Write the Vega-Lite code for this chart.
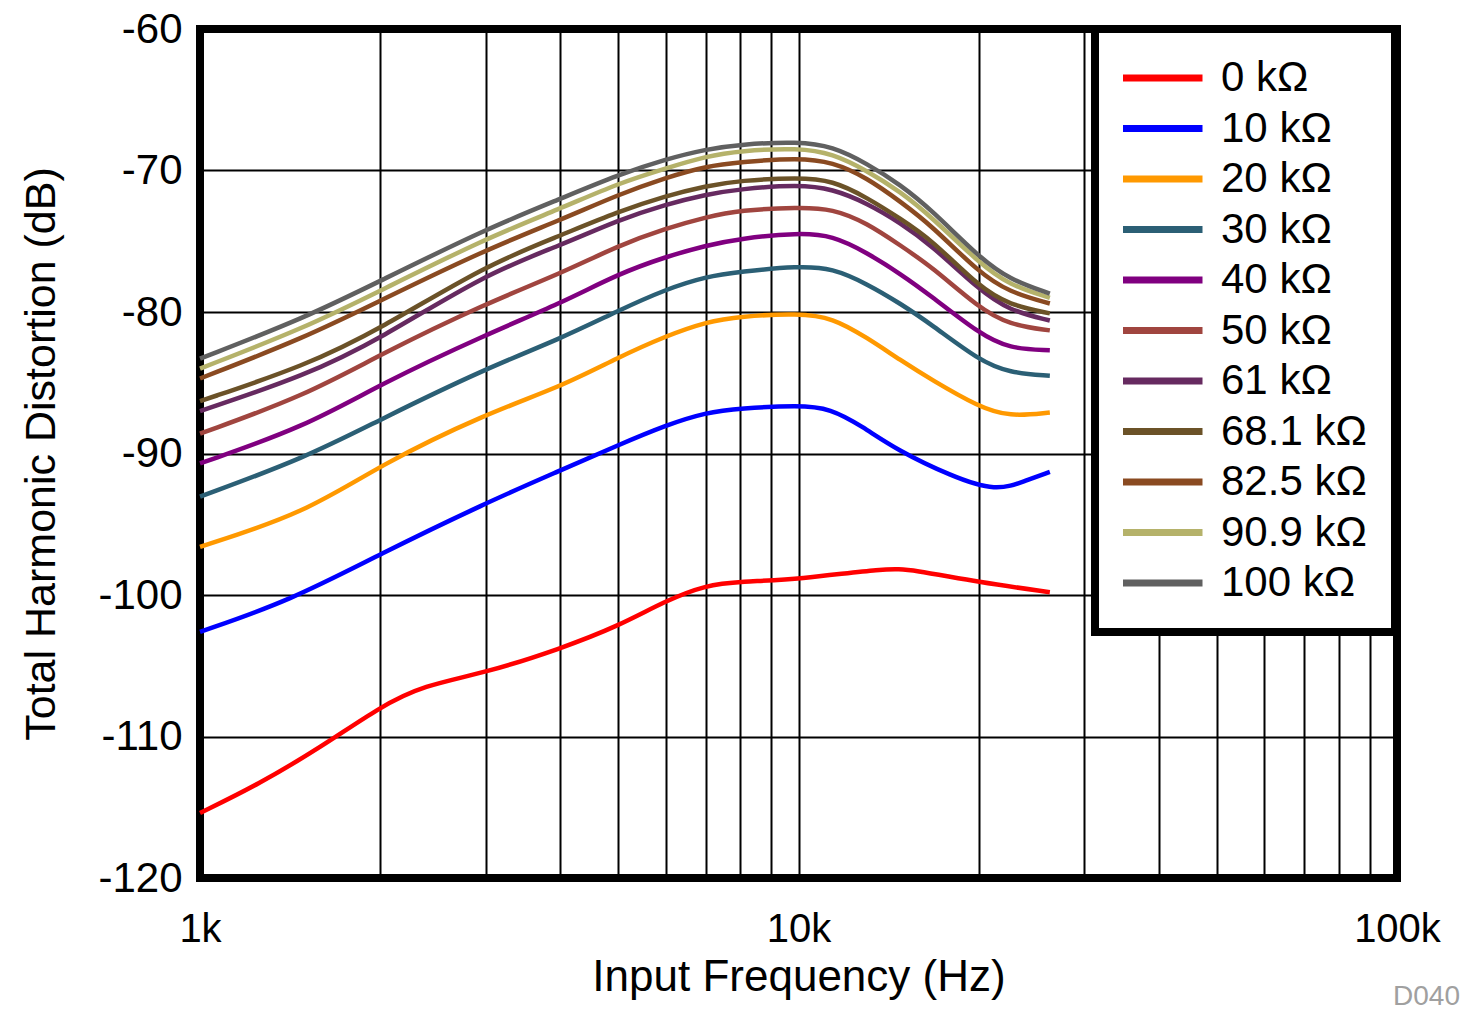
{
  "$schema": "https://vega.github.io/schema/vega-lite/v6.json",
  "width": 1197,
  "height": 849,
  "autosize": {"type": "none"},
  "padding": {"left": 200, "top": 29, "right": 66, "bottom": 137},
  "background": "white",
  "config": {
    "font": "Liberation Sans",
    "view": {"stroke": "black", "strokeWidth": 8},
    "legend": {"strokeWidth": 8},
    "axis": {"labelColor": "black", "titleColor": "black", "titleFontWeight": "normal", "labelFlush": false, "labelOverlap": false, "ticks": false, "domain": false, "grid": true, "gridColor": "black", "gridWidth": 2, "gridOpacity": 1}
  },
  "title": {"text": "D040", "orient": "bottom", "anchor": "end", "frame": "group", "fontSize": 28, "fontWeight": "normal", "color": "#a0a0a0", "dx": 63, "offset": -16},
  "data": {"values": [
    {"f":1000,"thd":-115.4,"r":"0 kΩ"},{"f":1250,"thd":-113.4,"r":"0 kΩ"},{"f":1600,"thd":-110.7,"r":"0 kΩ"},{"f":2000,"thd":-107.9,"r":"0 kΩ"},{"f":2360,"thd":-106.4,"r":"0 kΩ"},{"f":3000,"thd":-105.5,"r":"0 kΩ"},{"f":4000,"thd":-103.8,"r":"0 kΩ"},{"f":5000,"thd":-102.2,"r":"0 kΩ"},{"f":6000,"thd":-100.4,"r":"0 kΩ"},{"f":7000,"thd":-99.3,"r":"0 kΩ"},{"f":8000,"thd":-99.05,"r":"0 kΩ"},{"f":10000,"thd":-98.9,"r":"0 kΩ"},{"f":14000,"thd":-98.1,"r":"0 kΩ"},{"f":15500,"thd":-98.2,"r":"0 kΩ"},{"f":20000,"thd":-99.1,"r":"0 kΩ"},{"f":26300,"thd":-99.8,"r":"0 kΩ"},
    {"f":1000,"thd":-102.6,"r":"10 kΩ"},{"f":1414,"thd":-100.4,"r":"10 kΩ"},{"f":2000,"thd":-97.1,"r":"10 kΩ"},{"f":3000,"thd":-93.5,"r":"10 kΩ"},{"f":4000,"thd":-91.2,"r":"10 kΩ"},{"f":5000,"thd":-89.4,"r":"10 kΩ"},{"f":6000,"thd":-88.0,"r":"10 kΩ"},{"f":7000,"thd":-87.1,"r":"10 kΩ"},{"f":8000,"thd":-86.8,"r":"10 kΩ"},{"f":10000,"thd":-86.6,"r":"10 kΩ"},{"f":11300,"thd":-86.8,"r":"10 kΩ"},{"f":12800,"thd":-88.1,"r":"10 kΩ"},{"f":14600,"thd":-89.75,"r":"10 kΩ"},{"f":18000,"thd":-91.6,"r":"10 kΩ"},{"f":21400,"thd":-92.7,"r":"10 kΩ"},{"f":24000,"thd":-91.9,"r":"10 kΩ"},{"f":26300,"thd":-91.3,"r":"10 kΩ"},
    {"f":1000,"thd":-96.6,"r":"20 kΩ"},{"f":1500,"thd":-94.2,"r":"20 kΩ"},{"f":2000,"thd":-90.8,"r":"20 kΩ"},{"f":3000,"thd":-87.2,"r":"20 kΩ"},{"f":4000,"thd":-85.3,"r":"20 kΩ"},{"f":5000,"thd":-83.2,"r":"20 kΩ"},{"f":6000,"thd":-81.7,"r":"20 kΩ"},{"f":7000,"thd":-80.7,"r":"20 kΩ"},{"f":8000,"thd":-80.3,"r":"20 kΩ"},{"f":10000,"thd":-80.1,"r":"20 kΩ"},{"f":11400,"thd":-80.4,"r":"20 kΩ"},{"f":13000,"thd":-81.8,"r":"20 kΩ"},{"f":14800,"thd":-83.4,"r":"20 kΩ"},{"f":16700,"thd":-84.8,"r":"20 kΩ"},{"f":20000,"thd":-86.7,"r":"20 kΩ"},{"f":22500,"thd":-87.4,"r":"20 kΩ"},{"f":26300,"thd":-87.1,"r":"20 kΩ"},
    {"f":1000,"thd":-93.05,"r":"30 kΩ"},{"f":1500,"thd":-90.3,"r":"30 kΩ"},{"f":2000,"thd":-87.6,"r":"30 kΩ"},{"f":3000,"thd":-84.0,"r":"30 kΩ"},{"f":4000,"thd":-81.9,"r":"30 kΩ"},{"f":5000,"thd":-79.9,"r":"30 kΩ"},{"f":6000,"thd":-78.4,"r":"30 kΩ"},{"f":7000,"thd":-77.5,"r":"30 kΩ"},{"f":8000,"thd":-77.15,"r":"30 kΩ"},{"f":10000,"thd":-76.75,"r":"30 kΩ"},{"f":11400,"thd":-76.9,"r":"30 kΩ"},{"f":13000,"thd":-78.0,"r":"30 kΩ"},{"f":14800,"thd":-79.4,"r":"30 kΩ"},{"f":16700,"thd":-80.9,"r":"30 kΩ"},{"f":20000,"thd":-83.4,"r":"30 kΩ"},{"f":22500,"thd":-84.3,"r":"30 kΩ"},{"f":26300,"thd":-84.5,"r":"30 kΩ"},
    {"f":1000,"thd":-90.7,"r":"40 kΩ"},{"f":1500,"thd":-88.1,"r":"40 kΩ"},{"f":2000,"thd":-85.1,"r":"40 kΩ"},{"f":3000,"thd":-81.6,"r":"40 kΩ"},{"f":4000,"thd":-79.4,"r":"40 kΩ"},{"f":5000,"thd":-77.3,"r":"40 kΩ"},{"f":6000,"thd":-76.1,"r":"40 kΩ"},{"f":7000,"thd":-75.3,"r":"40 kΩ"},{"f":8000,"thd":-74.8,"r":"40 kΩ"},{"f":10000,"thd":-74.4,"r":"40 kΩ"},{"f":11400,"thd":-74.6,"r":"40 kΩ"},{"f":13000,"thd":-75.8,"r":"40 kΩ"},{"f":14800,"thd":-77.3,"r":"40 kΩ"},{"f":16700,"thd":-78.9,"r":"40 kΩ"},{"f":20000,"thd":-81.5,"r":"40 kΩ"},{"f":22500,"thd":-82.6,"r":"40 kΩ"},{"f":26300,"thd":-82.7,"r":"40 kΩ"},
    {"f":1000,"thd":-88.6,"r":"50 kΩ"},{"f":1500,"thd":-85.9,"r":"50 kΩ"},{"f":2000,"thd":-83.0,"r":"50 kΩ"},{"f":3000,"thd":-79.4,"r":"50 kΩ"},{"f":4000,"thd":-77.3,"r":"50 kΩ"},{"f":5000,"thd":-75.3,"r":"50 kΩ"},{"f":6000,"thd":-74.1,"r":"50 kΩ"},{"f":7000,"thd":-73.3,"r":"50 kΩ"},{"f":8000,"thd":-72.8,"r":"50 kΩ"},{"f":10000,"thd":-72.6,"r":"50 kΩ"},{"f":11400,"thd":-72.7,"r":"50 kΩ"},{"f":13000,"thd":-73.7,"r":"50 kΩ"},{"f":14800,"thd":-75.3,"r":"50 kΩ"},{"f":16700,"thd":-76.8,"r":"50 kΩ"},{"f":20000,"thd":-79.7,"r":"50 kΩ"},{"f":22500,"thd":-80.9,"r":"50 kΩ"},{"f":26300,"thd":-81.3,"r":"50 kΩ"},
    {"f":1000,"thd":-87.0,"r":"61 kΩ"},{"f":1500,"thd":-84.5,"r":"61 kΩ"},{"f":2000,"thd":-81.9,"r":"61 kΩ"},{"f":3000,"thd":-77.3,"r":"61 kΩ"},{"f":4000,"thd":-75.3,"r":"61 kΩ"},{"f":5000,"thd":-73.5,"r":"61 kΩ"},{"f":6000,"thd":-72.4,"r":"61 kΩ"},{"f":7000,"thd":-71.7,"r":"61 kΩ"},{"f":8000,"thd":-71.3,"r":"61 kΩ"},{"f":10000,"thd":-71.0,"r":"61 kΩ"},{"f":11400,"thd":-71.3,"r":"61 kΩ"},{"f":13000,"thd":-72.3,"r":"61 kΩ"},{"f":14800,"thd":-73.7,"r":"61 kΩ"},{"f":16700,"thd":-75.3,"r":"61 kΩ"},{"f":20000,"thd":-78.4,"r":"61 kΩ"},{"f":22500,"thd":-79.9,"r":"61 kΩ"},{"f":26300,"thd":-80.6,"r":"61 kΩ"},
    {"f":1000,"thd":-86.3,"r":"68.1 kΩ"},{"f":1500,"thd":-83.8,"r":"68.1 kΩ"},{"f":2000,"thd":-81.2,"r":"68.1 kΩ"},{"f":3000,"thd":-76.7,"r":"68.1 kΩ"},{"f":4000,"thd":-74.6,"r":"68.1 kΩ"},{"f":5000,"thd":-72.9,"r":"68.1 kΩ"},{"f":6000,"thd":-71.8,"r":"68.1 kΩ"},{"f":7000,"thd":-71.1,"r":"68.1 kΩ"},{"f":8000,"thd":-70.7,"r":"68.1 kΩ"},{"f":10000,"thd":-70.5,"r":"68.1 kΩ"},{"f":11400,"thd":-70.7,"r":"68.1 kΩ"},{"f":13000,"thd":-71.9,"r":"68.1 kΩ"},{"f":14800,"thd":-73.4,"r":"68.1 kΩ"},{"f":16700,"thd":-74.9,"r":"68.1 kΩ"},{"f":20000,"thd":-78.2,"r":"68.1 kΩ"},{"f":22500,"thd":-79.5,"r":"68.1 kΩ"},{"f":26300,"thd":-80.1,"r":"68.1 kΩ"},
    {"f":1000,"thd":-84.7,"r":"82.5 kΩ"},{"f":1500,"thd":-81.8,"r":"82.5 kΩ"},{"f":2000,"thd":-79.2,"r":"82.5 kΩ"},{"f":3000,"thd":-75.6,"r":"82.5 kΩ"},{"f":4000,"thd":-73.5,"r":"82.5 kΩ"},{"f":5000,"thd":-71.7,"r":"82.5 kΩ"},{"f":6000,"thd":-70.5,"r":"82.5 kΩ"},{"f":7000,"thd":-69.7,"r":"82.5 kΩ"},{"f":8000,"thd":-69.4,"r":"82.5 kΩ"},{"f":10000,"thd":-69.1,"r":"82.5 kΩ"},{"f":11400,"thd":-69.4,"r":"82.5 kΩ"},{"f":13000,"thd":-70.5,"r":"82.5 kΩ"},{"f":14800,"thd":-72.2,"r":"82.5 kΩ"},{"f":16700,"thd":-73.9,"r":"82.5 kΩ"},{"f":20000,"thd":-77.2,"r":"82.5 kΩ"},{"f":22500,"thd":-78.6,"r":"82.5 kΩ"},{"f":26300,"thd":-79.4,"r":"82.5 kΩ"},
    {"f":1000,"thd":-84.0,"r":"90.9 kΩ"},{"f":1500,"thd":-81.1,"r":"90.9 kΩ"},{"f":2000,"thd":-78.5,"r":"90.9 kΩ"},{"f":3000,"thd":-74.8,"r":"90.9 kΩ"},{"f":4000,"thd":-72.7,"r":"90.9 kΩ"},{"f":5000,"thd":-70.9,"r":"90.9 kΩ"},{"f":6000,"thd":-69.85,"r":"90.9 kΩ"},{"f":7000,"thd":-69.0,"r":"90.9 kΩ"},{"f":8000,"thd":-68.6,"r":"90.9 kΩ"},{"f":10000,"thd":-68.4,"r":"90.9 kΩ"},{"f":11400,"thd":-68.8,"r":"90.9 kΩ"},{"f":13000,"thd":-70.0,"r":"90.9 kΩ"},{"f":14800,"thd":-71.5,"r":"90.9 kΩ"},{"f":16700,"thd":-73.3,"r":"90.9 kΩ"},{"f":20000,"thd":-76.5,"r":"90.9 kΩ"},{"f":22500,"thd":-78.1,"r":"90.9 kΩ"},{"f":26300,"thd":-79.0,"r":"90.9 kΩ"},
    {"f":1000,"thd":-83.3,"r":"100 kΩ"},{"f":1500,"thd":-80.4,"r":"100 kΩ"},{"f":2000,"thd":-77.8,"r":"100 kΩ"},{"f":3000,"thd":-74.15,"r":"100 kΩ"},{"f":4000,"thd":-72.0,"r":"100 kΩ"},{"f":5000,"thd":-70.3,"r":"100 kΩ"},{"f":6000,"thd":-69.2,"r":"100 kΩ"},{"f":7000,"thd":-68.5,"r":"100 kΩ"},{"f":8000,"thd":-68.15,"r":"100 kΩ"},{"f":10000,"thd":-67.95,"r":"100 kΩ"},{"f":11400,"thd":-68.3,"r":"100 kΩ"},{"f":13000,"thd":-69.5,"r":"100 kΩ"},{"f":14800,"thd":-71.0,"r":"100 kΩ"},{"f":16700,"thd":-72.8,"r":"100 kΩ"},{"f":20000,"thd":-76.1,"r":"100 kΩ"},{"f":22500,"thd":-77.7,"r":"100 kΩ"},{"f":26300,"thd":-78.7,"r":"100 kΩ"}
  ]},
  "mark": {"type": "line", "strokeWidth": 4.5, "interpolate": "basis"},
  "encoding": {
    "x": {
      "field": "f", "type": "quantitative",
      "scale": {"type": "log", "domain": [1000, 100000], "nice": false},
      "axis": {
        "values": [1000, 2000, 3000, 4000, 5000, 6000, 7000, 8000, 9000, 10000, 20000, 30000, 40000, 50000, 60000, 70000, 80000, 90000, 100000],
        "labelExpr": "datum.value == 1000 ? '1k' : datum.value == 10000 ? '10k' : datum.value == 100000 ? '100k' : ''",
        "labelFontSize": 40, "labelPadding": 31,
        "title": "Input Frequency (Hz)", "titleFontSize": 44, "titlePadding": 6
      }
    },
    "y": {
      "field": "thd", "type": "quantitative",
      "scale": {"domain": [-120, -60], "nice": false, "zero": false},
      "axis": {
        "values": [-120, -110, -100, -90, -80, -70, -60],
        "labelExpr": "'' + datum.value",
        "labelFontSize": 42, "labelPadding": 18,
        "title": "Total Harmonic Distortion (dB)", "titleFontSize": 43, "titlePadding": 34
      }
    },
    "color": {
      "field": "r", "type": "nominal",
      "scale": {
        "domain": ["0 kΩ", "10 kΩ", "20 kΩ", "30 kΩ", "40 kΩ", "50 kΩ", "61 kΩ", "68.1 kΩ", "82.5 kΩ", "90.9 kΩ", "100 kΩ"],
        "range": ["#ff0000", "#0000ff", "#ff9900", "#2b5f75", "#800080", "#a0453f", "#662a60", "#6b5228", "#8a4a21", "#b5b26a", "#606060"]
      },
      "legend": {
        "title": null, "orient": "none", "legendX": 895, "legendY": 0,
        "symbolType": "stroke", "symbolSize": 7056, "symbolStrokeWidth": 7, "symbolOffset": -8,
        "clipHeight": 42, "rowPadding": 8.5,
        "labelFontSize": 42, "labelOffset": 15, "labelColor": "black", "labelLimit": 400,
        "padding": 28, "fillColor": "white", "strokeColor": "black"
      }
    }
  }
}
